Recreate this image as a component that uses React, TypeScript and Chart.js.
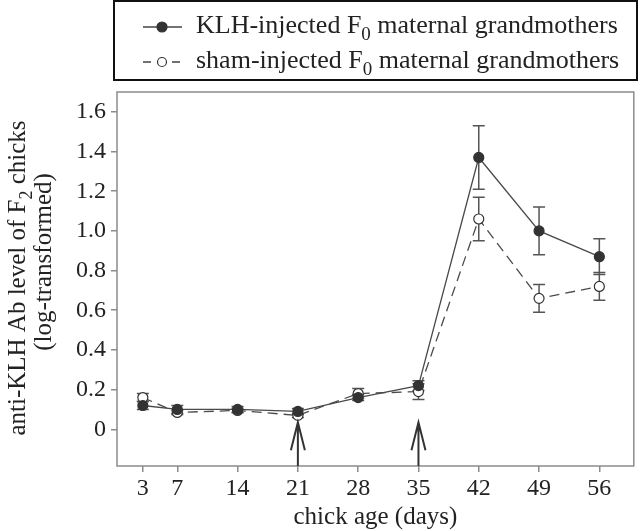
import React, { useEffect, useRef } from "react";
import { Chart, registerables } from "chart.js";
Chart.register(...registerables);

const days = [3, 7, 14, 21, 28, 35, 42, 49, 56];
const klhMean = [0.12, 0.10, 0.10, 0.09, 0.16, 0.22, 1.37, 1.00, 0.87];
const klhErr = [0.02, 0.02, 0.015, 0.015, 0.015, 0.025, 0.16, 0.12, 0.09];
const shamMean = [0.16, 0.085, 0.095, 0.07, 0.18, 0.19, 1.06, 0.66, 0.72];
const shamErr = [0.02, 0.01, 0.01, 0.01, 0.025, 0.04, 0.11, 0.07, 0.07];
const yTicks = [0, 0.2, 0.4, 0.6, 0.8, 1.0, 1.2, 1.4, 1.6];
const arrowDays = [21, 35];
const arrowTip = 0.035;

const FONT = "'Liberation Serif', 'Times New Roman', serif";
const FS_TICK = 24;
const FS_TITLE = 25;
const FS_LEG = 26;

type Part = { t: string; sub?: boolean };

function measureRich(ctx: CanvasRenderingContext2D, parts: Part[], fs: number) {
  let w = 0;
  for (const p of parts) {
    ctx.font = `${p.sub ? Math.round(fs * 0.72) : fs}px ${FONT}`;
    w += ctx.measureText(p.t).width;
  }
  return w;
}
function drawRich(ctx: CanvasRenderingContext2D, parts: Part[], x: number, y: number, fs: number) {
  let cx = x;
  ctx.textBaseline = "alphabetic";
  ctx.textAlign = "left";
  for (const p of parts) {
    const f = p.sub ? Math.round(fs * 0.72) : fs;
    ctx.font = `${f}px ${FONT}`;
    ctx.fillText(p.t, cx, p.sub ? y + fs * 0.28 : y);
    cx += ctx.measureText(p.t).width;
  }
}

const decorPlugin = {
  id: "decor",
  beforeDatasetsDraw(chart: any) {
    const ctx = chart.ctx as CanvasRenderingContext2D;
    const xs = chart.scales.x;
    const ys = chart.scales.y;
    ctx.save();
    ctx.strokeStyle = "#555";
    ctx.lineWidth = 1.5;
    const series = [
      [klhMean, klhErr],
      [shamMean, shamErr],
    ];
    for (const [m, e] of series) {
      days.forEach((d, i) => {
        const px = xs.getPixelForValue(d);
        const yt = ys.getPixelForValue(m[i] + e[i]);
        const yb = ys.getPixelForValue(m[i] - e[i]);
        ctx.beginPath();
        ctx.moveTo(px, yt);
        ctx.lineTo(px, yb);
        ctx.moveTo(px - 6, yt);
        ctx.lineTo(px + 6, yt);
        ctx.moveTo(px - 6, yb);
        ctx.lineTo(px + 6, yb);
        ctx.stroke();
      });
    }
    ctx.restore();
  },
  afterDraw(chart: any) {
    const ctx = chart.ctx as CanvasRenderingContext2D;
    const a = chart.chartArea;
    const xs = chart.scales.x;
    const ys = chart.scales.y;
    ctx.save();
    ctx.strokeStyle = "#8c8c8c";
    ctx.lineWidth = 1.5;
    ctx.strokeRect(a.left, a.top, a.right - a.left, a.bottom - a.top);
    ctx.strokeStyle = "#333";
    ctx.lineWidth = 2;
    for (const d of arrowDays) {
      const px = xs.getPixelForValue(d);
      const tip = ys.getPixelForValue(arrowTip);
      ctx.beginPath();
      ctx.moveTo(px, a.bottom);
      ctx.lineTo(px, tip);
      ctx.moveTo(px - 7, tip + 28);
      ctx.lineTo(px, tip);
      ctx.lineTo(px + 7, tip + 28);
      ctx.stroke();
    }
    ctx.fillStyle = "#222";
    ctx.font = `${FS_TITLE}px ${FONT}`;
    ctx.textAlign = "center";
    ctx.textBaseline = "alphabetic";
    ctx.fillText("chick age (days)", (a.left + a.right) / 2, 524);
    const l1: Part[] = [{ t: "anti-KLH Ab level of F" }, { t: "2", sub: true }, { t: " chicks" }];
    const l2: Part[] = [{ t: "(log-transformed)" }];
    ctx.save();
    ctx.translate(25, 278);
    ctx.rotate(-Math.PI / 2);
    const w1 = measureRich(ctx, l1, FS_TITLE);
    drawRich(ctx, l1, -w1 / 2, 0, FS_TITLE);
    ctx.restore();
    ctx.save();
    ctx.translate(51, 262);
    ctx.rotate(-Math.PI / 2);
    const w2 = measureRich(ctx, l2, FS_TITLE);
    drawRich(ctx, l2, -w2 / 2, 0, FS_TITLE);
    ctx.restore();
    ctx.strokeStyle = "#111";
    ctx.lineWidth = 2;
    ctx.strokeRect(114, 1, 523, 79);
    const rows = [
      { y: 27, parts: [{ t: "KLH-injected F" }, { t: "0", sub: true }, { t: " maternal grandmothers" }] as Part[], filled: true },
      { y: 62, parts: [{ t: "sham-injected F" }, { t: "0", sub: true }, { t: " maternal grandmothers" }] as Part[], filled: false },
    ];
    for (const r of rows) {
      ctx.strokeStyle = "#444";
      ctx.lineWidth = 1.3;
      ctx.beginPath();
      if (r.filled) {
        ctx.moveTo(143, r.y);
        ctx.lineTo(182, r.y);
      } else {
        ctx.moveTo(143, r.y);
        ctx.lineTo(151, r.y);
        ctx.moveTo(172, r.y);
        ctx.lineTo(180, r.y);
      }
      ctx.stroke();
      ctx.beginPath();
      ctx.arc(162, r.y, r.filled ? 5 : 4.5, 0, Math.PI * 2);
      ctx.fillStyle = r.filled ? "#333" : "#fff";
      ctx.fill();
      ctx.strokeStyle = "#333";
      ctx.lineWidth = 1.2;
      ctx.stroke();
      ctx.fillStyle = "#222";
      drawRich(ctx, r.parts, 196, r.y + 6, FS_LEG);
    }
    ctx.restore();
  },
};

export default function App() {
  const ref = useRef<HTMLCanvasElement>(null);
  useEffect(() => {
    const c = ref.current!;
    const chart = new Chart(c, {
      type: "line",
      data: {
        datasets: [
          {
            label: "KLH-injected F0 maternal grandmothers",
            data: days.map((d, i) => ({ x: d, y: klhMean[i] })),
            borderColor: "#4a4a4a",
            borderWidth: 1.3,
            pointRadius: 5,
            pointBackgroundColor: "#333",
            pointBorderColor: "#333",
            pointBorderWidth: 1.2,
            tension: 0,
          },
          {
            label: "sham-injected F0 maternal grandmothers",
            data: days.map((d, i) => ({ x: d, y: shamMean[i] })),
            borderColor: "#4a4a4a",
            borderWidth: 1.3,
            borderDash: [10, 6],
            pointRadius: 5,
            pointBackgroundColor: "#fff",
            pointBorderColor: "#333",
            pointBorderWidth: 1.2,
            tension: 0,
          },
        ],
      },
      options: {
        animation: false,
        responsive: false,
        layout: { padding: { top: 92, right: 3, left: 0, bottom: 0 } },
        plugins: { legend: { display: false }, tooltip: { enabled: false } },
        scales: {
          x: {
            type: "linear",
            min: 0,
            max: 60,
            afterBuildTicks: (s: any) => {
              s.ticks = days.map((v) => ({ value: v }));
            },
            afterFit: (s: any) => {
              s.height = 65;
            },
            grid: { display: true, drawOnChartArea: false, drawTicks: true, tickLength: 6, color: "#8c8c8c", lineWidth: 1.5 },
            border: { display: false },
            ticks: {
              autoSkip: false,
              maxRotation: 0,
              padding: 2,
              color: "#222",
              font: { family: FONT, size: FS_TICK },
              callback: (v: any) => String(v),
            },
          },
          y: {
            type: "linear",
            min: -0.185,
            max: 1.7,
            afterBuildTicks: (s: any) => {
              s.ticks = yTicks.map((v) => ({ value: v }));
            },
            afterFit: (s: any) => {
              s.width = 117;
            },
            grid: { display: true, drawOnChartArea: false, drawTicks: true, tickLength: 6, color: "#8c8c8c", lineWidth: 1.5 },
            border: { display: false },
            ticks: {
              autoSkip: false,
              padding: 5,
              color: "#222",
              font: { family: FONT, size: FS_TICK },
              callback: (v: any) => (v === 0 ? "0" : Number(v).toFixed(1)),
            },
          },
        },
      },
      plugins: [decorPlugin],
    } as any);
    return () => chart.destroy();
  }, []);
  return (
    <div style={{ position: "fixed", left: 0, top: 0, width: 640, height: 531, background: "#fff" }}>
      <canvas ref={ref} width={640} height={531} style={{ display: "block", width: 640, height: 531 }} />
    </div>
  );
}
